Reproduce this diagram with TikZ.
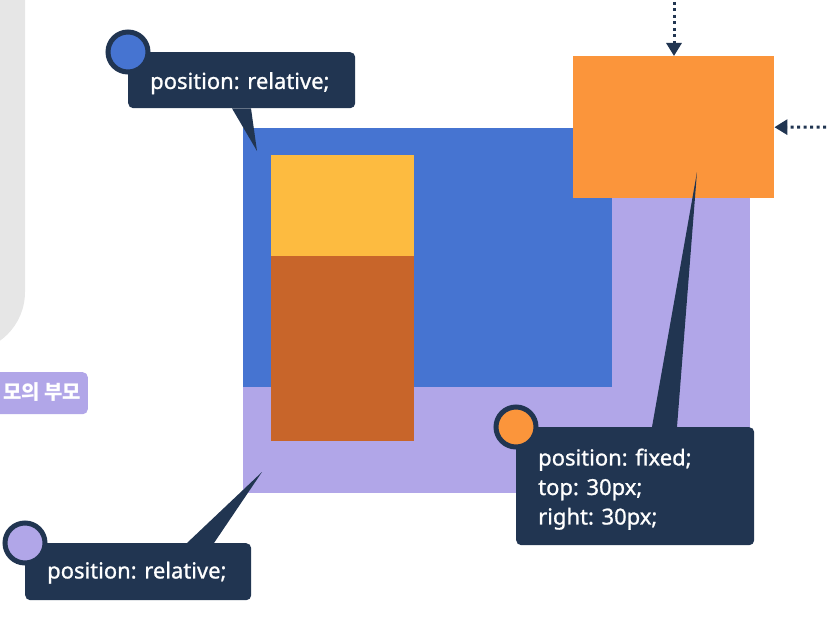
\documentclass[tikz,border=0pt]{standalone}
\usepackage{fontspec}
\setsansfont{Noto Sans}[FakeBold=1]
\newfontfamily\krfont{Noto Sans CJK KR}
\usetikzlibrary{arrows.meta,positioning}

\definecolor{navy}{HTML}{213551}
\definecolor{boxblue}{HTML}{4674D1}
\definecolor{lavender}{HTML}{B1A6E8}
\definecolor{boxyellow}{HTML}{FDBB40}
\definecolor{boxbrown}{HTML}{C8652A}
\definecolor{boxorange}{HTML}{FB953B}
\definecolor{pagegray}{HTML}{E6E6E6}

\begin{document}
\begin{tikzpicture}[
    x=1pt, y=-1pt,
    font=\sffamily\fontsize{22}{29.5}\selectfont,
    box/.style={inner sep=0pt, anchor=north west},
    callout/.style={fill=navy, rounded corners=5pt, inner sep=0pt, anchor=north west},
    txt/.style={text=white, inner sep=0pt, anchor=west, align=left},
    dot/.style={circle, fill=#1, draw=navy, line width=5pt, minimum size=40pt, inner sep=0pt},
    guide/.style={navy, line width=3pt, dash pattern=on 3pt off 3.5pt,
      -{Triangle[width=15pt,length=13pt]}},
  ]

  \useasboundingbox (0,0) rectangle (838,618);

  % ---- sfondo a sinistra ----------------------------------------------------
  \fill[pagegray, rounded corners=60pt] (-90,-60) -- (25,-60) -- (25,352) -- (-90,352) -- cycle;
  \node[fill=lavender, rounded corners=5pt, minimum width=110pt, minimum height=42pt,
        inner sep=0pt, anchor=north east] (tag) at (88,372) {};
  \node[text=white, inner sep=0pt, anchor=west, font=\krfont\bfseries\fontsize{20}{22}\selectfont]
    (tagtxt) at (3,392) {모의 부모};

  % ---- i riquadri -----------------------------------------------------------
  \node[box, fill=lavender, minimum width=507pt, minimum height=365pt] (outer) at (243,128) {};
  \node[box, fill=boxblue, minimum width=369pt, minimum height=259pt] (parent) at (243,128) {};
  \node[box, fill=boxbrown, minimum width=143pt, minimum height=186pt] (sibling) at (271,255) {};
  \node[box, fill=boxyellow, minimum width=143pt, minimum height=101pt] (child) at (271,155) {};
  \node[box, fill=boxorange, minimum width=201pt, minimum height=142pt] (fixed) at (573,56) {};

  % ---- frecce tratteggiate (top e right) ------------------------------------
  \coordinate (topstart) at (674,2);
  \coordinate (rightstart) at (826,127);
  \draw[guide] (topstart) -- (fixed.north -| topstart);
  \draw[guide] (rightstart) -- (fixed.east);

  % ---- fumetto in alto ------------------------------------------------------
  \node[callout, minimum width=227pt, minimum height=56pt] (relA) at (128,52) {};
  \coordinate (relAtip) at (257,151);
  \fill[navy] ([xshift=104pt]relA.south west) -- ([xshift=123pt]relA.south west) -- (relAtip) -- cycle;
  \node[txt] (relAtxt) at ([xshift=22pt,yshift=-3pt]relA.west) {position: relative;};
  \node[dot=boxblue] (relAdot) at (relA.north west) {};

  % ---- fumetto in basso a sinistra ------------------------------------------
  \node[callout, minimum width=226pt, minimum height=57pt] (relB) at (25,543) {};
  \coordinate (relBtip) at (262,472);
  \fill[navy] ([xshift=162pt]relB.north west) -- ([xshift=189pt]relB.north west) -- (relBtip) -- cycle;
  \node[txt] (relBtxt) at ([xshift=22pt,yshift=-1pt]relB.west) {position: relative;};
  \node[dot=lavender] (relBdot) at (relB.north west) {};

  % ---- fumetto fixed --------------------------------------------------------
  \node[callout, minimum width=238pt, minimum height=118pt] (fix) at (516,427) {};
  \coordinate (fixtip) at (697,172);
  \fill[navy] ([xshift=136pt]fix.north west) -- ([xshift=161pt]fix.north west) -- (fixtip) -- cycle;
  \node[txt] (fixtxt) at ([xshift=22pt,yshift=-3pt]fix.west) {position: fixed;\\top: 30px;\\right: 30px;};
  \node[dot=boxorange] (fixdot) at (fix.north west) {};

\end{tikzpicture}
\end{document}
